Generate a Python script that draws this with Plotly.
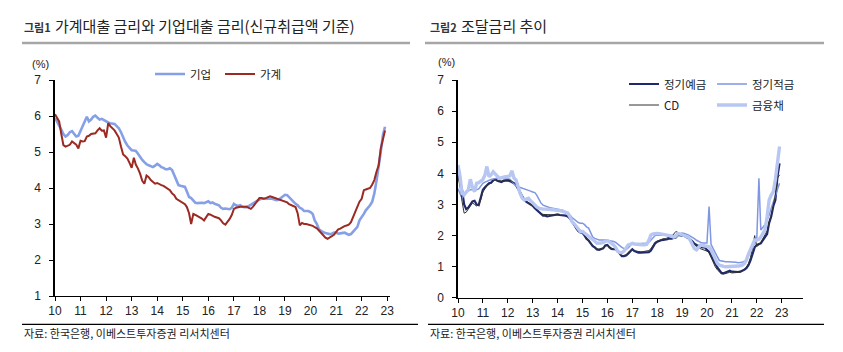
import pandas as pd
import plotly.graph_objects as go

# ---------------- data ----------------
months = pd.date_range("2010-01-01", "2022-12-01", freq="MS")

# 그림1: 기업대출 금리 (%)
corp = [
    5.95, 5.85, 5.75, 5.62, 5.50, 5.43, 5.47, 5.55, 5.58, 5.50, 5.43, 5.45,
    5.60, 5.75, 5.88, 5.98, 5.85, 5.90, 5.98, 6.01, 5.95, 5.90, 5.92, 5.88,
    5.85, 5.82, 5.80, 5.80, 5.78, 5.72, 5.66, 5.55, 5.40, 5.28, 5.18, 5.10,
    5.05, 5.04, 5.03, 4.95, 4.85, 4.78, 4.72, 4.66, 4.63, 4.60, 4.58, 4.62,
    4.67, 4.63, 4.58, 4.56, 4.52, 4.52, 4.55, 4.50, 4.35, 4.20, 4.08, 4.06,
    4.05, 4.03, 3.90, 3.75, 3.72, 3.65, 3.59, 3.58, 3.59, 3.59, 3.58, 3.60,
    3.63, 3.58, 3.60, 3.56, 3.54, 3.52, 3.45, 3.42, 3.43, 3.42, 3.41, 3.45,
    3.56, 3.52, 3.50, 3.52, 3.48, 3.47, 3.47, 3.50, 3.54, 3.56, 3.60, 3.66,
    3.68, 3.70, 3.70, 3.71, 3.70, 3.69, 3.70, 3.68, 3.66, 3.67, 3.72, 3.75,
    3.81, 3.80, 3.75, 3.70, 3.62, 3.56, 3.52, 3.45, 3.42, 3.36, 3.37, 3.36,
    3.33, 3.28, 3.10, 3.00, 2.85, 2.80, 2.77, 2.75, 2.73, 2.72, 2.73, 2.76,
    2.76, 2.73, 2.74, 2.76, 2.76, 2.73, 2.70, 2.72, 2.78, 2.85, 2.92, 3.10,
    3.18, 3.28, 3.38, 3.45, 3.52, 3.62, 3.85, 4.20, 4.55, 5.00, 5.47, 5.70,
]
# 그림1: 가계대출 금리 (%)
household = [
    6.05, 5.95, 5.85, 5.50, 5.19, 5.15, 5.17, 5.20, 5.29, 5.25, 5.20, 5.10,
    5.31, 5.29, 5.30, 5.43, 5.45, 5.50, 5.52, 5.52, 5.60, 5.66, 5.59, 5.60,
    5.40, 5.80, 5.72, 5.66, 5.60, 5.50, 5.40, 5.15, 4.93, 4.88, 4.82, 4.70,
    4.56, 4.84, 4.65, 4.54, 4.40, 4.20, 4.12, 4.35, 4.30, 4.22, 4.18, 4.12,
    4.14, 4.10, 4.08, 4.06, 4.02, 3.98, 3.94, 3.85, 3.80, 3.70, 3.66, 3.62,
    3.59, 3.55, 3.47, 3.30, 3.00, 3.28, 3.25, 3.22, 3.19, 3.15, 3.10, 3.19,
    3.28, 3.26, 3.22, 3.20, 3.18, 3.16, 3.10, 3.02, 2.98, 3.05, 3.14, 3.25,
    3.42, 3.45, 3.47, 3.48, 3.48, 3.49, 3.48, 3.45, 3.42, 3.48, 3.56, 3.65,
    3.72, 3.72, 3.70, 3.72, 3.75, 3.77, 3.75, 3.73, 3.72, 3.68, 3.66, 3.65,
    3.63, 3.60, 3.55, 3.52, 3.49, 3.47, 3.30, 2.96, 3.03, 3.00, 3.00, 2.98,
    2.98, 2.95, 2.91, 2.88, 2.82, 2.75, 2.68, 2.62, 2.59, 2.63, 2.68, 2.70,
    2.78, 2.85, 2.87, 2.91, 2.94, 2.96, 2.98, 3.05, 3.20, 3.30, 3.50, 3.62,
    3.70, 3.94, 3.96, 3.98, 4.00, 4.10, 4.22, 4.45, 4.63, 5.10, 5.35, 5.60,
]

# 그림2: 정기예금 (%)
deposit = [
    4.00, 3.75, 3.47, 3.00, 2.85, 2.90, 2.98, 3.10, 3.12, 3.00, 2.98, 3.20,
    3.47, 3.55, 3.63, 3.68, 3.70, 3.78, 3.81, 3.76, 3.74, 3.72, 3.76, 3.77,
    3.77, 3.75, 3.72, 3.68, 3.62, 3.50, 3.41, 3.30, 3.14, 3.08, 3.04, 3.02,
    2.96, 2.88, 2.82, 2.77, 2.70, 2.64, 2.64, 2.62, 2.63, 2.64, 2.66, 2.67,
    2.68, 2.66, 2.65, 2.66, 2.64, 2.61, 2.55, 2.45, 2.35, 2.22, 2.15, 2.10,
    2.09, 2.00, 1.90, 1.84, 1.75, 1.66, 1.62, 1.55, 1.54, 1.57, 1.59, 1.68,
    1.70, 1.62, 1.57, 1.56, 1.56, 1.50, 1.40, 1.34, 1.34, 1.36, 1.42, 1.50,
    1.56, 1.50, 1.47, 1.45, 1.45, 1.45, 1.46, 1.45, 1.47, 1.52, 1.62, 1.75,
    1.80, 1.84, 1.85, 1.86, 1.86, 1.88, 1.91, 1.90, 1.92, 1.94, 2.02, 2.02,
    2.00, 1.99, 1.96, 1.93, 1.88, 1.82, 1.74, 1.70, 1.66, 1.64, 1.62, 1.62,
    1.54, 1.48, 1.36, 1.25, 1.10, 0.98, 0.90, 0.80, 0.79, 0.82, 0.84, 0.87,
    0.84, 0.83, 0.84, 0.83, 0.84, 0.86, 0.90, 0.95, 1.05, 1.20, 1.43, 1.62,
    1.70, 1.72, 1.75, 1.85, 1.95, 2.05, 2.40, 2.61, 2.95, 3.14, 3.90, 4.32,
]
# 그림2: 정기적금 (%)
installment = [
    3.50, 3.35, 3.20, 3.30, 3.41, 3.44, 3.47, 3.47, 3.46, 3.47, 3.50, 3.60,
    3.68, 3.72, 3.75, 3.79, 3.80, 3.82, 3.84, 3.84, 3.84, 3.84, 3.83, 3.82,
    3.82, 3.81, 3.75, 3.68, 3.60, 3.57, 3.55, 3.52, 3.49, 3.48, 3.46, 3.43,
    3.40, 3.38, 3.30, 3.17, 3.05, 2.98, 2.95, 2.92, 2.90, 2.89, 2.88, 2.86,
    2.85, 2.84, 2.82, 2.80, 2.76, 2.72, 2.66, 2.58, 2.52, 2.45, 2.42, 2.40,
    2.40, 2.35, 2.28, 2.24, 2.10, 1.95, 1.91, 1.88, 1.86, 1.86, 1.87, 1.86,
    1.85, 1.84, 1.82, 1.81, 1.78, 1.72, 1.66, 1.62, 1.58, 1.55, 1.60, 1.68,
    1.75, 1.74, 1.74, 1.74, 1.75, 1.75, 1.74, 1.75, 1.78, 1.85, 1.95, 2.00,
    2.02, 2.02, 2.02, 2.02, 2.01, 2.00, 2.00, 2.00, 2.00, 2.00, 2.04, 2.07,
    2.08, 2.07, 2.05, 2.02, 1.98, 1.95, 1.90, 1.85, 1.80, 1.78, 1.76, 1.75,
    1.76, 2.93, 1.72, 1.58, 1.43, 1.32, 1.20, 1.18, 1.17, 1.16, 1.16, 1.16,
    1.15, 1.14, 1.14, 1.13, 1.13, 1.14, 1.18, 1.21, 1.35, 1.54, 1.65, 1.75,
    1.90, 3.84, 2.18, 2.25, 2.35, 2.50, 2.65, 2.88, 3.10, 3.25, 3.50, 3.68,
]
# 그림2: CD (%)
cd = [
    3.90, 3.55, 3.10, 2.72, 2.75, 2.85, 2.95, 3.05, 3.00, 2.95, 3.00, 3.15,
    3.40, 3.50, 3.60, 3.65, 3.68, 3.75, 3.80, 3.78, 3.76, 3.75, 3.78, 3.80,
    3.80, 3.78, 3.75, 3.70, 3.65, 3.55, 3.45, 3.25, 3.15, 3.10, 3.05, 3.00,
    2.95, 2.90, 2.85, 2.75, 2.70, 2.68, 2.68, 2.66, 2.66, 2.66, 2.66, 2.67,
    2.68, 2.66, 2.65, 2.65, 2.64, 2.62, 2.55, 2.45, 2.33, 2.20, 2.13, 2.10,
    2.08, 2.00, 1.90, 1.82, 1.75, 1.68, 1.62, 1.58, 1.56, 1.58, 1.60, 1.66,
    1.68, 1.62, 1.58, 1.56, 1.55, 1.50, 1.40, 1.36, 1.36, 1.38, 1.45, 1.52,
    1.55, 1.50, 1.50, 1.48, 1.48, 1.48, 1.50, 1.50, 1.52, 1.58, 1.68, 1.78,
    1.82, 1.85, 1.88, 1.90, 1.90, 1.92, 1.95, 1.98, 2.05, 2.13, 2.10, 2.05,
    2.02, 2.00, 1.97, 1.94, 1.88, 1.80, 1.72, 1.64, 1.60, 1.58, 1.55, 1.52,
    1.50, 1.45, 1.30, 1.15, 1.00, 0.90, 0.82, 0.77, 0.76, 0.78, 0.80, 0.82,
    0.80, 0.80, 0.80, 0.80, 0.82, 0.85, 0.90, 0.98, 1.10, 1.30, 1.60, 2.00,
    1.65, 1.70, 1.78, 1.90, 2.00, 2.15, 2.45, 2.65, 3.00, 3.30, 3.85, 3.95,
]
# 그림2: 금융채 (%)
bank_bond = [
    4.27, 3.89, 3.35, 3.31, 3.40, 3.47, 3.81, 3.55, 3.41, 3.68, 3.70, 3.74,
    3.80, 3.95, 4.22, 3.89, 3.95, 4.05, 3.98, 3.88, 3.84, 3.86, 3.89, 3.89,
    3.90, 3.92, 4.08, 3.85, 3.79, 3.52, 3.35, 3.20, 3.14, 3.17, 3.20, 3.12,
    3.04, 2.98, 2.92, 2.88, 2.86, 2.85, 2.85, 2.85, 2.85, 2.84, 2.83, 2.82,
    2.82, 2.80, 2.79, 2.77, 2.75, 2.72, 2.60, 2.45, 2.38, 2.29, 2.20, 2.13,
    2.13, 2.08, 2.02, 1.98, 1.92, 1.86, 1.82, 1.75, 1.75, 1.76, 1.78, 1.80,
    1.84, 1.80, 1.76, 1.70, 1.62, 1.49, 1.46, 1.45, 1.50, 1.60, 1.70, 1.72,
    1.75, 1.73, 1.72, 1.70, 1.70, 1.70, 1.70, 1.72, 1.85, 2.02, 2.05, 2.07,
    2.07, 2.06, 2.05, 2.05, 2.04, 2.03, 2.00, 1.97, 1.95, 1.98, 2.07, 2.05,
    2.03, 2.00, 1.97, 1.95, 1.85, 1.70, 1.58, 1.54, 1.62, 1.70, 1.68, 1.66,
    1.65, 1.64, 1.55, 1.38, 1.25, 1.11, 1.05, 1.02, 1.01, 1.00, 1.00, 1.00,
    1.00, 1.00, 1.01, 1.02, 1.03, 1.05, 1.10, 1.21, 1.40, 1.54, 1.70, 1.86,
    1.86, 1.88, 1.95, 2.08, 2.18, 2.60, 3.14, 3.30, 3.41, 3.80, 4.30, 4.86,
]

year_ticks = ["2010-01-01", "2011-01-01", "2012-01-01", "2013-01-01", "2014-01-01",
              "2015-01-01", "2016-01-01", "2017-01-01", "2018-01-01", "2019-01-01",
              "2020-01-01", "2021-01-01", "2022-01-01", "2023-01-01"]
year_labels = ["10", "11", "12", "13", "14", "15", "16", "17", "18", "19",
               "20", "21", "22", "23"]

title1_tag, title1 = "그림1", "가계대출 금리와 기업대출 금리(신규취급액 기준)"
title2_tag, title2 = "그림2", "조달금리 추이"
source = "자료: 한국은행, 이베스트투자증권 리서치센터"

# ---------------- figure ----------------
W, H = 843, 352
KR = "Noto Sans CJK KR, Noto Sans, sans-serif"
NUM = "Liberation Sans Narrow, Arial Narrow, Liberation Sans, Arial, sans-serif"

def px(x):
    return x / W

def py(y):
    return 1 - y / H

fig = go.Figure()

fig.add_trace(go.Scatter(x=months, y=corp, name="기업", mode="lines",
                         line=dict(color="#86a0e8", width=2.6),
                         xaxis="x", yaxis="y", legend="legend"))
fig.add_trace(go.Scatter(x=months, y=household, name="가계", mode="lines",
                         line=dict(color="#9b2a22", width=2.0),
                         xaxis="x", yaxis="y", legend="legend"))

fig.add_trace(go.Scatter(x=months, y=deposit, name="정기예금", mode="lines",
                         line=dict(color="#1f2a6e", width=2.2),
                         xaxis="x2", yaxis="y2", legend="legend2"))
fig.add_trace(go.Scatter(x=months, y=installment, name="정기적금", mode="lines",
                         line=dict(color="#7f96e2", width=1.5),
                         xaxis="x2", yaxis="y2", legend="legend2"))
fig.add_trace(go.Scatter(x=months, y=cd, name="CD", mode="lines",
                         line=dict(color="#333333", width=1.0),
                         xaxis="x2", yaxis="y2", legend="legend3"))
fig.add_trace(go.Scatter(x=months, y=bank_bond, name="금융채", mode="lines",
                         line=dict(color="#b7c7f2", width=3.4),
                         xaxis="x2", yaxis="y2", legend="legend3"))

axis_common = dict(showgrid=False, zeroline=False, showline=True, automargin=False,
                   linecolor="black", ticks="outside", ticklen=4,
                   tickcolor="black", tickfont=dict(family=NUM, size=12, color="#222"))

legend_common = dict(orientation="h", xanchor="left", yanchor="middle",
                     entrywidthmode="pixels", itemwidth=30, borderwidth=0,
                     bgcolor="rgba(0,0,0,0)", font=dict(family=KR, size=11.5, color="#222"))

fig.update_layout(
    width=W, height=H,
    margin=dict(l=0, r=0, t=0, b=0, autoexpand=False),
    paper_bgcolor="white", plot_bgcolor="white",
    font=dict(family=KR, size=11, color="#222"),
    xaxis=dict(domain=[px(55), px(390)], anchor="y", type="date",
               range=["2010-01-01", "2023-02-10"], tickvals=year_ticks,
               ticktext=year_labels, linewidth=1, **axis_common),
    yaxis=dict(domain=[py(296), py(80)], anchor="x", range=[1, 7],
               tick0=1, dtick=1, linewidth=1.5, ticklabelstandoff=6, **axis_common),
    xaxis2=dict(domain=[px(458), px(803)], anchor="y2", type="date",
                range=["2010-01-01", "2023-11-10"], tickvals=year_ticks,
                ticktext=year_labels, linewidth=1, **axis_common),
    yaxis2=dict(domain=[py(297.8), py(80)], anchor="x2", range=[0, 7],
                tick0=0, dtick=1, linewidth=1.5, ticklabelstandoff=6, **axis_common),
    legend=dict(x=px(150), y=py(74), entrywidth=25, **legend_common),
    legend2=dict(x=px(624), y=py(84), entrywidth=43, **legend_common),
    legend3=dict(x=px(624), y=py(105), entrywidth=43, **legend_common),
)

ann = []
for xl, tag, ttl in [(22, title1_tag, title1), (428, title2_tag, title2)]:
    ann.append(dict(x=px(xl), y=py(37), xref="paper", yref="paper", xanchor="left",
                    yanchor="bottom", text="<b>" + tag + "</b>", showarrow=False,
                    font=dict(family=KR, size=11, color="#333")))
    ann.append(dict(x=px(xl + 31), y=py(38), xref="paper", yref="paper", xanchor="left",
                    yanchor="bottom", text=ttl, showarrow=False,
                    font=dict(family=KR, size=15, color="#222")))
for xl in [22, 428]:
    ann.append(dict(x=px(xl), y=py(333), xref="paper", yref="paper", xanchor="left",
                    yanchor="middle", text=source, showarrow=False,
                    font=dict(family=KR, size=11, color="#222")))
ann.append(dict(x=px(40), y=py(64), xref="paper", yref="paper", xanchor="center",
                yanchor="middle", text="(%)", showarrow=False,
                font=dict(family=NUM, size=11, color="#222")))
ann.append(dict(x=px(447), y=py(62), xref="paper", yref="paper", xanchor="center",
                yanchor="middle", text="(%)", showarrow=False,
                font=dict(family=NUM, size=11, color="#222")))
fig.update_layout(annotations=ann)

shapes = []
for x0, x1 in [(22, 410), (425, 824)]:
    shapes.append(dict(type="line", xref="paper", yref="paper", x0=px(x0), x1=px(x1),
                       y0=py(43), y1=py(43), line=dict(color="#a6a6a6", width=2.5)))
for x0, x1 in [(22, 418), (428, 824)]:
    shapes.append(dict(type="line", xref="paper", yref="paper", x0=px(x0), x1=px(x1),
                       y0=py(324.3), y1=py(324.3), line=dict(color="black", width=1.2)))
fig.update_layout(shapes=shapes)

fig.write_html("out.html")
